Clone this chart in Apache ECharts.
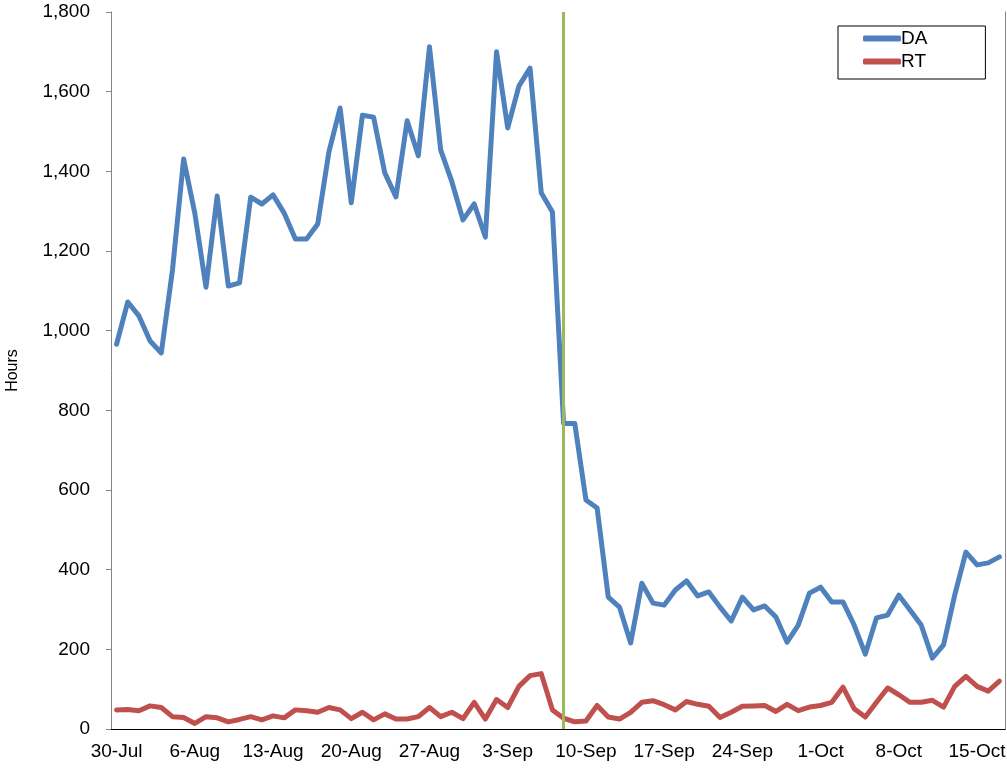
<!DOCTYPE html>
<html>
<head>
<meta charset="utf-8">
<script src="https://cdn.jsdelivr.net/npm/echarts@6/dist/echarts.min.js"></script>
<style>
    html, body { margin: 0; padding: 0; background: #fff; }
    #chart { width: 1007px; height: 773px; }
</style>
</head>
<body>
<div id="chart"></div>
<script>
var dateList = [
    '30-Jul', '31-Jul',
    '1-Aug', '2-Aug', '3-Aug', '4-Aug', '5-Aug', '6-Aug', '7-Aug', '8-Aug', '9-Aug', '10-Aug',
    '11-Aug', '12-Aug', '13-Aug', '14-Aug', '15-Aug', '16-Aug', '17-Aug', '18-Aug', '19-Aug', '20-Aug',
    '21-Aug', '22-Aug', '23-Aug', '24-Aug', '25-Aug', '26-Aug', '27-Aug', '28-Aug', '29-Aug', '30-Aug', '31-Aug',
    '1-Sep', '2-Sep', '3-Sep', '4-Sep', '5-Sep', '6-Sep', '7-Sep', '8-Sep', '9-Sep', '10-Sep',
    '11-Sep', '12-Sep', '13-Sep', '14-Sep', '15-Sep', '16-Sep', '17-Sep', '18-Sep', '19-Sep', '20-Sep',
    '21-Sep', '22-Sep', '23-Sep', '24-Sep', '25-Sep', '26-Sep', '27-Sep', '28-Sep', '29-Sep', '30-Sep',
    '1-Oct', '2-Oct', '3-Oct', '4-Oct', '5-Oct', '6-Oct', '7-Oct', '8-Oct', '9-Oct', '10-Oct',
    '11-Oct', '12-Oct', '13-Oct', '14-Oct', '15-Oct', '16-Oct', '17-Oct'
];

var daList = [
    966, 1072, 1037, 974, 944, 1152, 1431, 1295, 1109, 1338,
    1112, 1120, 1335, 1318, 1341, 1295, 1230, 1230, 1268, 1449,
    1559, 1321, 1541, 1536, 1396, 1336, 1527, 1439, 1713, 1454,
    1374, 1278, 1318, 1235, 1700, 1509, 1614, 1659, 1346, 1298,
    767, 767, 575, 555, 331, 306, 216, 366, 316, 311,
    349, 372, 334, 344, 306, 271, 331, 299, 309, 281,
    218, 261, 341, 356, 319, 319, 261, 188, 279, 286,
    336, 299, 261, 178, 211, 336, 444, 412, 417, 432
];

var rtList = [
    48, 49, 46, 58, 54, 31, 29, 14, 31, 28,
    18, 24, 31, 23, 33, 28, 48, 46, 42, 54,
    48, 26, 42, 23, 38, 25, 25, 31, 54, 31,
    42, 26, 67, 25, 74, 54, 107, 134, 139, 48,
    27, 18, 20, 59, 30, 25, 42, 67, 71, 61,
    48, 69, 62, 57, 29, 42, 57, 58, 59, 44,
    62, 46, 55, 59, 67, 105, 51, 30, 67, 103,
    86, 67, 67, 72, 55, 107, 132, 107, 95, 120
];

var markerDate = '8-Sep';

var fontName = "'Liberation Sans', Arial, sans-serif";

var dom = document.getElementById('chart');
var myChart = echarts.init(dom, null, { renderer: 'canvas' });

var option = {
    animation: false,
    backgroundColor: '#ffffff',
    textStyle: { fontFamily: fontName },
    grid: {
        left: 111,
        right: 2,
        top: 12,
        bottom: 44,
        outerBoundsMode: 'none'
    },
    legend: {
        data: ['DA', 'RT'],
        orient: 'vertical',
        left: 838,
        top: 26,
        padding: [3, 58, 8, 25],
        itemGap: 4,
        itemWidth: 38,
        itemHeight: 6,
        icon: 'roundRect',
        borderColor: '#000',
        borderWidth: 1,
        textStyle: {
            fontFamily: fontName,
            fontSize: 19,
            color: '#000',
            padding: [0, 0, 0, -5]
        }
    },
    xAxis: [
        {
            type: 'category',
            boundaryGap: true,
            data: dateList,
            axisLine: { lineStyle: { color: '#868686', width: 1 } },
            axisTick: {
                interval: 6,
                length: 7,
                lineStyle: { color: '#868686' }
            },
            axisLabel: {
                interval: 6,
                margin: 13,
                color: '#000',
                fontFamily: fontName,
                fontSize: 19
            },
            splitLine: { show: false }
        },
        {
            // top border of the plot area
            type: 'category',
            position: 'top',
            data: dateList,
            axisLine: { lineStyle: { color: '#000', width: 1 } },
            axisTick: { show: false },
            axisLabel: { show: false },
            splitLine: { show: false }
        }
    ],
    yAxis: [
        {
            type: 'value',
            min: 0,
            max: 1800,
            interval: 200,
            name: 'Hours',
            nameLocation: 'middle',
            nameGap: 90,
            nameTextStyle: {
                fontFamily: fontName,
                fontSize: 16,
                color: '#000'
            },
            axisLine: { show: true, lineStyle: { color: '#868686', width: 1 } },
            axisTick: { show: true, length: 5, lineStyle: { color: '#868686' } },
            axisLabel: {
                margin: 21,
                color: '#000',
                fontFamily: fontName,
                fontSize: 19,
                formatter: function (v) {
                    return v.toLocaleString('en-US');
                }
            },
            splitLine: { show: false }
        },
        {
            // right border of the plot area
            type: 'value',
            position: 'right',
            min: 0,
            max: 1800,
            interval: 200,
            axisLine: { show: true, lineStyle: { color: '#868686', width: 1 } },
            axisTick: { show: false },
            axisLabel: { show: false },
            splitLine: { show: false }
        }
    ],
    series: [
        {
            name: 'DA',
            type: 'line',
            data: daList,
            symbol: 'none',
            lineStyle: { color: '#4F81BD', width: 5, join: 'round', cap: 'round' },
            itemStyle: { color: '#4F81BD' },
            z: 2
        },
        {
            name: 'RT',
            type: 'line',
            data: rtList,
            symbol: 'none',
            lineStyle: { color: '#C0504D', width: 5, join: 'round', cap: 'round' },
            itemStyle: { color: '#C0504D' },
            z: 2,
            markLine: {
                silent: true,
                symbol: ['none', 'none'],
                label: { show: false },
                lineStyle: { color: '#9BBB59', width: 3, type: 'solid' },
                data: [{ xAxis: markerDate }]
            }
        }
    ]
};

if (option && typeof option === "object") {
    myChart.setOption(option, true);
}
</script>
</body>
</html>
